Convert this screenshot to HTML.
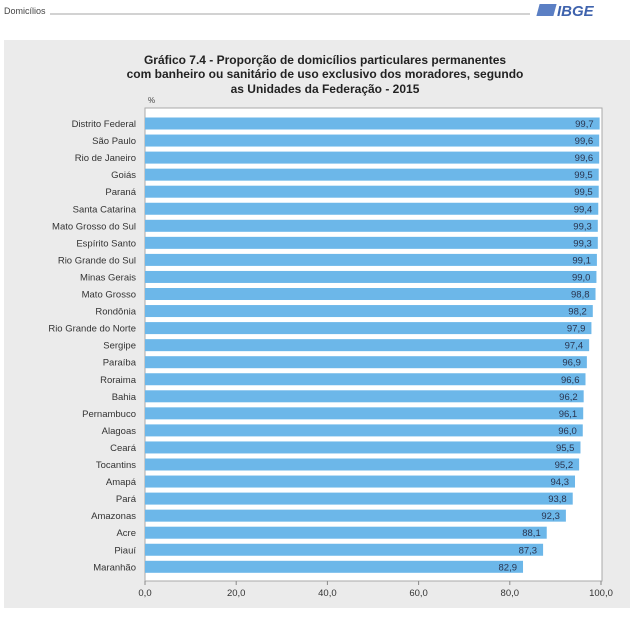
<!DOCTYPE html>
<html><head><meta charset="utf-8">
<style>
body{margin:0;background:#fff;width:641px;height:612px;overflow:hidden;font-family:"Liberation Sans",sans-serif;}
</style></head>
<body>
<svg width="641" height="612" xmlns="http://www.w3.org/2000/svg">
<text x="4" y="14" font-size="9" fill="#444">Domicílios</text>
<line x1="50" y1="14" x2="530" y2="14" stroke="#888" stroke-width="0.7"/>
<g>
<rect x="538" y="4" width="17" height="12" fill="#5b7fc4" transform="skewX(-15)" transform-origin="546 10"/>
<text x="557" y="16" font-size="15" font-weight="bold" font-style="italic" fill="#3f63ad">IBGE</text>
</g>
<rect x="4" y="40" width="626" height="568" fill="#ebebeb"/>
<g font-weight="bold" font-size="12" fill="#222" text-anchor="middle">
<text x="325" y="64">Gráfico 7.4 - Proporção de domicílios particulares permanentes</text>
<text x="325" y="78">com banheiro ou sanitário de uso exclusivo dos moradores, segundo</text>
<text x="325" y="93">as Unidades da Federação - 2015</text>
</g>
<text x="148" y="103" font-size="8" fill="#444">%</text>
<rect x="145" y="108" width="457" height="473" fill="#fff" stroke="#aaa" stroke-width="1"/>
<g id="bars"></g>
<g id="axis"></g>
</svg>
<script>
const categories=["Distrito Federal","São Paulo","Rio de Janeiro","Goiás","Paraná","Santa Catarina","Mato Grosso do Sul","Espírito Santo","Rio Grande do Sul","Minas Gerais","Mato Grosso","Rondônia","Rio Grande do Norte","Sergipe","Paraíba","Roraima","Bahia","Pernambuco","Alagoas","Ceará","Tocantins","Amapá","Pará","Amazonas","Acre","Piauí","Maranhão"];
const values=[99.7,99.6,99.6,99.5,99.5,99.4,99.3,99.3,99.1,99.0,98.8,98.2,97.9,97.4,96.9,96.6,96.2,96.1,96.0,95.5,95.2,94.3,93.8,92.3,88.1,87.3,82.9];
const ticks=[0,20,40,60,80,100];
const NS="http://www.w3.org/2000/svg";
const x0=145,x1=601,y0=123.5,step=17.05;
const xs=v=>x0+(x1-x0)*v/100;
const ys=i=>y0+i*step;
const bars=document.getElementById('bars');
function mk(t,a){const e=document.createElementNS(NS,t);for(const k in a)e.setAttribute(k,a[k]);return e;}
categories.forEach((c,i)=>{
 const r=mk('rect',{x:x0,y:ys(i)-6,width:xs(values[i])-x0,height:12,fill:'#6cb7e9'});
 
 
 bars.appendChild(r);
 const l=mk('text',{x:136,y:ys(i)+3.5,'font-size':9.5,fill:'#333','text-anchor':'end'});
 l.textContent=c;
 
 
 bars.appendChild(l);
 const v=mk('text',{x:xs(values[i])-6,y:ys(i)+3.5,'font-size':9.5,fill:'#2a3550','text-anchor':'end'});
 v.textContent=values[i].toFixed(1).replace('.',',');
 
 
 bars.appendChild(v);
});
const ax=document.getElementById('axis');
ticks.forEach(t=>{
 const ln=mk('line',{x1:xs(t),x2:xs(t),y1:581,y2:585,stroke:'#888'});
 
 
 ax.appendChild(ln);
 const tx=mk('text',{x:xs(t),y:596,'font-size':9.5,fill:'#333','text-anchor':'middle'});
 tx.textContent=t.toFixed(1).replace('.',',');
 
 
 ax.appendChild(tx);
});
</script>
</body></html>
